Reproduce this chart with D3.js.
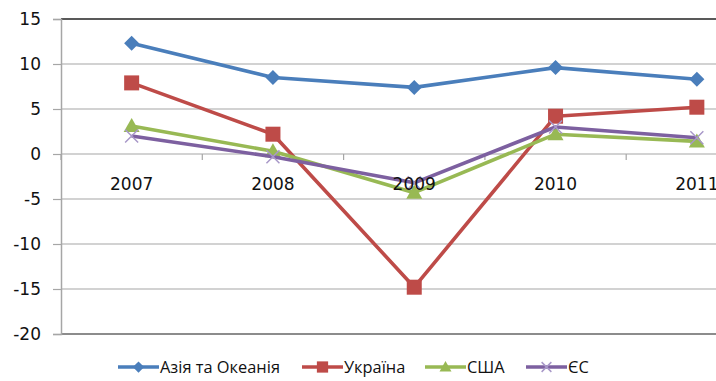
<!DOCTYPE html>
<html>
<head>
<meta charset="utf-8">
<script src="https://cdn.jsdelivr.net/npm/d3@7"></script>
<style>
  html, body { margin: 0; padding: 0; background: #fff; }
  svg { display: block; font-family: "DejaVu Sans", Verdana, sans-serif; }
</style>
</head>
<body>
<svg id="chart" width="716" height="381"></svg>
<script>
// Years on the category axis
const years = ["2007", "2008", "2009", "2010", "2011"];

// Series values by year
const asiaOceania = [12.3, 8.5, 7.4, 9.6, 8.3];
const ukraine     = [7.9, 2.2, -14.8, 4.2, 5.2];
const usa         = [3.1, 0.3, -4.3, 2.2, 1.4];
const eu          = [2.0, -0.3, -3.2, 3.0, 1.8];

// Value axis ticks
const yTicks = [15, 10, 5, 0, -5, -10, -15, -20];

const seriesNames = ["Азія та Океанія", "Україна", "США", "ЄС"];

const series = [
  { name: seriesNames[0], values: asiaOceania, color: "#4A7EBB", marker: "diamond" },
  { name: seriesNames[1], values: ukraine,     color: "#BE4B48", marker: "square" },
  { name: seriesNames[2], values: usa,         color: "#98B954", marker: "triangle" },
  { name: seriesNames[3], values: eu,          color: "#7D60A0", marker: "x" }
];

const svg = d3.select("#chart");

const plotLeft = 61, plotTop = 19, plotBottom = 334, bandW = 141.3;
const x = d3.scaleBand().domain(years).range([plotLeft, plotLeft + bandW * years.length]);
const y = d3.scaleLinear().domain([-20, 15]).range([plotBottom, plotTop]);
const cx = d => x(d) + x.bandwidth() / 2;

// Horizontal gridlines
svg.append("g")
  .selectAll("line")
  .data(yTicks.filter(t => t !== 15 && t !== -20))
  .join("line")
  .attr("x1", plotLeft).attr("x2", 716)
  .attr("y1", d => y(d)).attr("y2", d => y(d))
  .attr("stroke", "#A6A6A6").attr("stroke-width", 1.2);

// Top border of the plot
svg.append("line")
  .attr("x1", plotLeft).attr("x2", 716)
  .attr("y1", y(15)).attr("y2", y(15))
  .attr("stroke", "#222").attr("stroke-width", 1.3);

// Bottom border
svg.append("line")
  .attr("x1", plotLeft).attr("x2", 716)
  .attr("y1", y(-20)).attr("y2", y(-20))
  .attr("stroke", "#8C8C8C").attr("stroke-width", 2);

// Value axis (plain hyphen for negatives)
const yAxis = d3.axisLeft(y).tickValues(yTicks).tickSize(8).tickPadding(12).tickFormat(d => String(d));
const yg = svg.append("g").attr("transform", `translate(${plotLeft},0)`).call(yAxis);
yg.select(".domain").attr("stroke", "#A6A6A6").attr("stroke-width", 1.5);
yg.selectAll(".tick line").attr("stroke", "#A6A6A6").attr("stroke-width", 1.2);
yg.selectAll(".tick text")
  .attr("font-size", 17).attr("fill", "#111")
  .attr("font-family", "DejaVu Sans, Verdana, sans-serif");

// Category axis ticks along the zero line
const xAxis = d3.axisBottom(x).tickSize(6).tickFormat("");
const xg = svg.append("g").attr("transform", `translate(0,${y(0)})`).call(xAxis);
xg.select(".domain").remove();
xg.selectAll(".tick").attr("transform", d => `translate(${x(d)},0)`);
xg.selectAll(".tick line").attr("stroke", "#A6A6A6").attr("stroke-width", 1.2);

// Lines and markers
const line = d3.line().x((d, i) => cx(years[i])).y(d => y(d));

series.forEach(s => {
  const g = svg.append("g");
  g.append("path")
    .attr("d", line(s.values))
    .attr("fill", "none")
    .attr("stroke", s.color)
    .attr("stroke-width", 3.6)
    .attr("stroke-linejoin", "round");
  s.values.forEach((v, i) => drawMarker(g, s, cx(years[i]), y(v), 1));
});

function drawMarker(g, s, px, py, scale) {
  const k = scale;
  if (s.marker === "diamond") {
    g.append("path")
      .attr("d", `M${px},${py - 7.5 * k}L${px + 7.5 * k},${py}L${px},${py + 7.5 * k}L${px - 7.5 * k},${py}Z`)
      .attr("fill", s.color);
  } else if (s.marker === "square") {
    g.append("rect")
      .attr("x", px - 7.5 * k).attr("y", py - 7.5 * k)
      .attr("width", 15 * k).attr("height", 15 * k)
      .attr("fill", s.color);
  } else if (s.marker === "triangle") {
    g.append("path")
      .attr("d", `M${px},${py - 8 * k}L${px + 8 * k},${py + 6 * k}L${px - 8 * k},${py + 6 * k}Z`)
      .attr("fill", s.color);
  } else {
    const r = 6.5 * k;
    g.append("path")
      .attr("d", `M${px - r},${py - r}L${px + r},${py + r}M${px - r},${py + r}L${px + r},${py - r}`)
      .attr("stroke", "#A898C8").attr("stroke-width", 1.5).attr("fill", "none");
  }
}

// Category labels, drawn above the lines
svg.append("g")
  .selectAll("text")
  .data(years)
  .join("text")
  .attr("x", d => cx(d))
  .attr("y", y(0) + 36)
  .attr("text-anchor", "middle")
  .attr("font-size", 17)
  .attr("fill", "#111")
  .text(d => d);

// Legend
const legendItems = [
  { x: 118, s: series[0] },
  { x: 302, s: series[1] },
  { x: 425, s: series[2] },
  { x: 526, s: series[3] }
];
const ly = 367;
legendItems.forEach(it => {
  const g = svg.append("g");
  g.append("line")
    .attr("x1", it.x).attr("x2", it.x + 41)
    .attr("y1", ly).attr("y2", ly)
    .attr("stroke", it.s.color).attr("stroke-width", 3.6);
  drawMarker(g, it.s, it.x + 20.5, ly, 0.75);
  g.append("text")
    .attr("x", it.x + 42)
    .attr("y", ly + 6)
    .attr("font-size", 16.4)
    .attr("font-family", "Open Sans, sans-serif")
    .attr("fill", "#111")
    .text(it.s.name);
});
</script>
</body>
</html>
